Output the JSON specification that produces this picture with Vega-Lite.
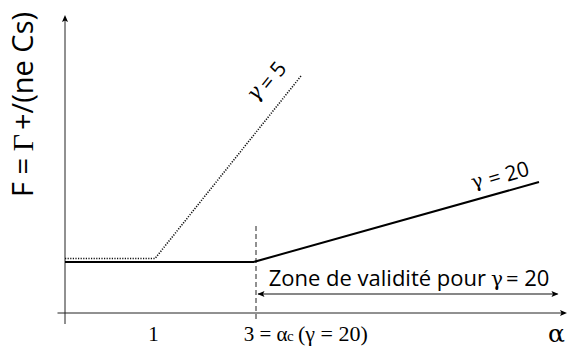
{
  "$schema": "https://vega.github.io/schema/vega-lite/v6.json",
  "width": 568,
  "height": 347,
  "autosize": {"type": "none"},
  "padding": 0,
  "background": "white",
  "config": {"view": {"stroke": null}},
  "datasets": {
    "axes": [
      {"x": -0.15, "y": 0, "x2": 10.0, "y2": 0},
      {"x": 0, "y": -0.22, "x2": 0, "y2": 5.9}
    ],
    "arrows": [
      {"x": 10.04, "y": 0, "dir": "right"},
      {"x": 0, "y": 5.96, "dir": "up"},
      {"x": 9.87, "y": 0.38, "dir": "right"},
      {"x": 3.85, "y": 0.38, "dir": "left"}
    ],
    "curves": [
      {"gamma": "5", "x": 0, "y": 1.09, "o": 1},
      {"gamma": "5", "x": 1.8, "y": 1.09, "o": 2},
      {"gamma": "5", "x": 4.72, "y": 4.74, "o": 3},
      {"gamma": "20", "x": 0, "y": 1.02, "o": 1},
      {"gamma": "20", "x": 3.77, "y": 1.02, "o": 2},
      {"gamma": "20", "x": 9.48, "y": 2.62, "o": 3}
    ],
    "critical": [{"x": 3.82, "y": -0.12, "y2": 1.8}],
    "zone": [{"x": 3.86, "y": 0.38, "x2": 9.85}]
  },
  "encoding": {
    "x": {"field": "x", "type": "quantitative", "axis": null,
          "scale": {"domain": [-1.3, 10.06], "nice": false, "zero": false}},
    "y": {"field": "y", "type": "quantitative", "axis": null,
          "scale": {"domain": [-0.68, 6.26], "nice": false, "zero": false}}
  },
  "layer": [
    {
      "data": {"name": "axes"},
      "mark": {"type": "rule", "color": "#222", "strokeWidth": 1},
      "encoding": {"x2": {"field": "x2"}, "y2": {"field": "y2"}}
    },
    {
      "data": {"name": "critical"},
      "mark": {"type": "rule", "color": "#222", "strokeWidth": 1, "strokeDash": [5, 3]},
      "encoding": {"y2": {"field": "y2"}}
    },
    {
      "data": {"name": "zone"},
      "mark": {"type": "rule", "color": "#111", "strokeWidth": 1.2},
      "encoding": {"x2": {"field": "x2"}}
    },
    {
      "data": {"name": "arrows"},
      "mark": {"type": "point", "filled": true, "color": "#000", "opacity": 1, "size": 100, "strokeWidth": 0},
      "encoding": {
        "shape": {"field": "dir", "type": "nominal", "legend": null,
                  "scale": {"domain": ["up", "right", "left"],
                            "range": ["M0,0 L-0.6,1.4 L0,1.1 L0.6,1.4 Z", "M0,0 L-1.4,-0.6 L-1.1,0 L-1.4,0.6 Z", "M0,0 L1.4,-0.6 L1.1,0 L1.4,0.6 Z"]}}
      }
    },
    {
      "data": {"name": "curves"},
      "transform": [{"filter": "datum.gamma == '5'"}],
      "mark": {"type": "line", "color": "#111", "strokeWidth": 1.6, "strokeDash": [1.2, 1.4]},
      "encoding": {"order": {"field": "o"}}
    },
    {
      "data": {"name": "curves"},
      "transform": [{"filter": "datum.gamma == '20'"}],
      "mark": {"type": "line", "color": "#000", "strokeWidth": 2},
      "encoding": {"order": {"field": "o"}}
    },
    {
      "data": {"values": [{"x": -0.64, "y": 2.32, "t": "F ="}, {"x": -0.64, "y": 3.66, "t": "+/(ne Cs)"}]},
      "mark": {"type": "text", "angle": 270, "align": "left", "baseline": "alphabetic", "font": "Open Sans", "fontSize": 29, "color": "#000"},
      "encoding": {"text": {"field": "t"}}
    },
    {
      "data": {"values": [{"x": -0.64, "y": 3.41, "t": "Γ"}]},
      "mark": {"type": "text", "angle": 270, "align": "center", "baseline": "alphabetic", "font": "Liberation Serif", "fontSize": 30, "color": "#000"},
      "encoding": {"text": {"field": "t"}}
    },
    {
      "data": {"values": [{"x": 8.42, "y": 0.54, "t": "Zone de validité pour"}]},
      "mark": {"type": "text", "align": "right", "baseline": "alphabetic", "font": "Open Sans", "fontSize": 22, "color": "#000"},
      "encoding": {"text": {"field": "t"}}
    },
    {
      "data": {"values": [{"x": 8.64, "y": 0.54, "t": "γ"}]},
      "mark": {"type": "text", "align": "center", "baseline": "alphabetic", "font": "DejaVu Serif", "fontSize": 20, "color": "#000"},
      "encoding": {"text": {"field": "t"}}
    },
    {
      "data": {"values": [{"x": 8.82, "y": 0.54, "t": "= 20"}]},
      "mark": {"type": "text", "align": "left", "baseline": "alphabetic", "font": "Open Sans", "fontSize": 22, "color": "#000"},
      "encoding": {"text": {"field": "t"}}
    },
    {
      "data": {"values": [{"x": 8.24, "y": 2.63, "t": "γ"}]},
      "mark": {"type": "text", "angle": 344, "align": "center", "baseline": "middle", "font": "DejaVu Serif", "fontSize": 19, "color": "#000"},
      "encoding": {"text": {"field": "t"}}
    },
    {
      "data": {"values": [{"x": 8.88, "y": 2.76, "t": "= 20"}]},
      "mark": {"type": "text", "angle": 344, "align": "center", "baseline": "middle", "font": "Open Sans", "fontSize": 21, "color": "#000"},
      "encoding": {"text": {"field": "t"}}
    },
    {
      "data": {"values": [{"x": 3.8, "y": 4.39, "t": "γ"}]},
      "mark": {"type": "text", "angle": 309, "align": "center", "baseline": "middle", "font": "DejaVu Serif", "fontStyle": "italic", "fontSize": 21, "color": "#000"},
      "encoding": {"text": {"field": "t"}}
    },
    {
      "data": {"values": [{"x": 4.17, "y": 4.73, "t": "= 5"}]},
      "mark": {"type": "text", "angle": 309, "align": "center", "baseline": "middle", "font": "Open Sans", "fontSize": 21, "color": "#000"},
      "encoding": {"text": {"field": "t"}}
    },
    {
      "data": {"values": [{"x": 1.77, "y": -0.56, "t": "1"}]},
      "mark": {"type": "text", "align": "center", "baseline": "alphabetic", "font": "Liberation Serif", "fontSize": 21, "color": "#000"},
      "encoding": {"text": {"field": "t"}}
    },
    {
      "data": {"values": [{"x": 4.66, "y": -0.56, "t": "(γ = 20)"}]},
      "mark": {"type": "text", "align": "left", "baseline": "alphabetic", "font": "Liberation Serif", "fontSize": 22, "color": "#000"},
      "encoding": {"text": {"field": "t"}}
    },
    {
      "data": {"values": [{"x": 4.45, "y": -0.56, "t": "3 = α"}]},
      "mark": {"type": "text", "align": "right", "baseline": "alphabetic", "font": "Liberation Serif", "fontSize": 21, "color": "#000"},
      "encoding": {"text": {"field": "t"}}
    },
    {
      "data": {"values": [{"x": 4.44, "y": -0.56, "t": "c"}]},
      "mark": {"type": "text", "align": "left", "baseline": "alphabetic", "font": "Liberation Serif", "fontSize": 15, "color": "#000"},
      "encoding": {"text": {"field": "t"}}
    },
    {
      "data": {"values": [{"x": 9.83, "y": -0.58, "t": "α"}]},
      "mark": {"type": "text", "align": "center", "baseline": "alphabetic", "font": "DejaVu Serif", "fontSize": 25, "color": "#000"},
      "encoding": {"text": {"field": "t"}}
    }
  ]
}
